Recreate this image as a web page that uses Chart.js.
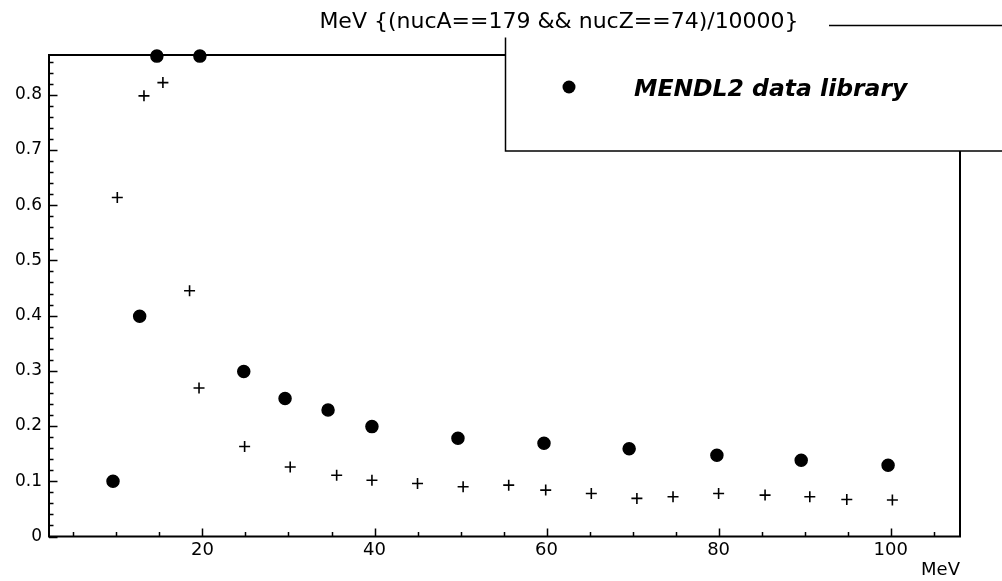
<!DOCTYPE html>
<html>
<head>
<meta charset="utf-8">
<script src="https://cdn.jsdelivr.net/npm/chart.js@4.4.0/dist/chart.umd.min.js"></script>
<style>
  html, body { margin: 0; padding: 0; background: #fff; }
</style>
</head>
<body>
<canvas id="scatterChart" width="1002" height="581"></canvas>
<script>
// values
var titleText = "MeV {(nucA==179 && nucZ==74)/10000}";
var legendText = "MENDL2 data library";
var axisText = "MeV";

// MENDL2 library points (filled dots)
var mendlEnergy = [9.6, 12.7, 14.7, 19.7, 24.8, 29.6, 34.6, 39.7, 49.7, 59.7, 69.6, 79.8, 89.6, 99.7];
var mendlValue  = [0.100, 0.399, 0.870, 0.870, 0.299, 0.250, 0.229, 0.199, 0.178, 0.169, 0.159, 0.147, 0.138, 0.129];

// simulation points (crosses)
var simEnergy = [10.1, 13.2, 15.4, 18.5, 19.6, 24.9, 30.2, 35.6, 39.7, 45.0, 50.3, 55.6, 59.9, 65.2, 70.5, 74.7, 80.0, 85.4, 90.6, 94.9, 100.2];
var simValue  = [0.614, 0.798, 0.822, 0.445, 0.269, 0.163, 0.126, 0.111, 0.102, 0.096, 0.090, 0.093, 0.084, 0.078, 0.069, 0.072, 0.078, 0.075, 0.072, 0.067, 0.066];

// axis ticks
var xTicks = [5, 10, 15, 20, 25, 30, 35, 40, 45, 50, 55, 60, 65, 70, 75, 80, 85, 90, 95, 100, 105];
var xLabels = [20, 40, 60, 80, 100];
var yLabels = [0, 0.1, 0.2, 0.3, 0.4, 0.5, 0.6, 0.7, 0.8];
var yMinorStep = 0.02;

var yTicks = [];
for (var i = 0; i <= 43; i++) {
  yTicks.push(Math.round(i * yMinorStep * 100) / 100);
}

function toPoints(xs, ys) {
  return xs.map(function(x, i) { return { x: x, y: ys[i] }; });
}

function isLabel(list, v) {
  return list.some(function(l) { return Math.abs(l - v) < 1e-6; });
}

// frame, inward ticks, legend box and title (ROOT look)
var rootDecor = {
  id: 'rootDecor',
  afterDraw: function(chart) {
    var c = chart.ctx;
    var a = chart.chartArea;
    var xs = chart.scales.x, ys = chart.scales.y;
    c.save();
    c.strokeStyle = '#000';
    c.lineWidth = 2;
    c.strokeRect(a.left, a.top, a.right - a.left, a.bottom - a.top);

    c.lineWidth = 1.5;
    c.beginPath();
    xTicks.forEach(function(v) {
      var px = Math.round(xs.getPixelForValue(v)) + 0.5;
      var len = isLabel(xLabels, v) ? 8 : 4.5;
      c.moveTo(px, a.bottom);
      c.lineTo(px, a.bottom - len);
    });
    yTicks.forEach(function(v) {
      var py = Math.round(ys.getPixelForValue(v)) + 0.5;
      var len = isLabel(yLabels, v) ? 8.5 : 4.5;
      c.moveTo(a.left, py);
      c.lineTo(a.left + len, py);
    });
    c.stroke();

    // legend box
    c.fillStyle = '#fff';
    c.fillRect(505, 25, 510, 126);
    c.lineWidth = 1.5;
    c.strokeRect(505.5, 25.5, 510, 125.5);
    c.fillStyle = '#000';
    c.beginPath();
    c.arc(569, 87, 6.5, 0, Math.PI * 2);
    c.fill();
    c.font = 'italic bold 23.5px "DejaVu Sans"';
    c.textBaseline = 'alphabetic';
    c.textAlign = 'left';
    c.fillText(chart.data.datasets[0].label, 634, 96);

    // title over the box corner
    c.fillStyle = '#fff';
    c.fillRect(300, 0, 529, 37.5);
    c.fillStyle = '#000';
    c.font = '22px "DejaVu Sans"';
    c.textAlign = 'center';
    c.fillText(titleText, 559, 28);
    c.restore();
  }
};

window.onload = function() {
  var ctx = document.getElementById("scatterChart");
  var chart = new Chart(ctx, {
    type: 'scatter',
    data: {
      datasets: [{
        label: legendText,
        data: toPoints(mendlEnergy, mendlValue),
        pointStyle: 'circle',
        pointRadius: 6,
        pointBorderWidth: 1.5,
        backgroundColor: '#000',
        borderColor: '#000',
        clip: false
      }, {
        label: '',
        data: toPoints(simEnergy, simValue),
        pointStyle: 'cross',
        pointRadius: 5.5,
        pointBorderWidth: 1.6,
        backgroundColor: '#000',
        borderColor: '#000',
        clip: false
      }]
    },
    options: {
      responsive: false,
      animation: false,
      layout: { padding: { left: 0, top: 55, right: 42, bottom: 0 } },
      plugins: {
        legend: { display: false },
        tooltip: { enabled: false }
      },
      scales: {
        x: {
          type: 'linear',
          min: 2.16,
          max: 108.06,
          grid: { display: false, drawTicks: false },
          border: { display: false },
          afterBuildTicks: function(s) {
            s.ticks = xTicks.map(function(v) { return { value: v }; });
          },
          afterFit: function(s) { s.height = 44.5; },
          ticks: {
            autoSkip: false,
            maxRotation: 0,
            padding: 3,
            color: '#000',
            font: { family: 'DejaVu Sans', size: 18 },
            callback: function(v) { return isLabel(xLabels, v) ? String(v) : ''; }
          },
          title: {
            display: true,
            text: axisText,
            align: 'end',
            color: '#000',
            font: { family: 'DejaVu Sans', size: 18 },
            padding: { top: 0, bottom: 0 }
          }
        },
        y: {
          type: 'linear',
          min: 0,
          max: 0.872,
          grid: { display: false, drawTicks: false },
          border: { display: false },
          afterBuildTicks: function(s) {
            s.ticks = yTicks.map(function(v) { return { value: v }; });
          },
          afterFit: function(s) { s.width = 49; },
          ticks: {
            autoSkip: false,
            padding: 7,
            color: '#000',
            font: { family: 'DejaVu Sans', size: 17 },
            callback: function(v) { return isLabel(yLabels, v) ? String(v) : ''; }
          }
        }
      }
    },
    plugins: [rootDecor]
  });
};
</script>
</body>
</html>
